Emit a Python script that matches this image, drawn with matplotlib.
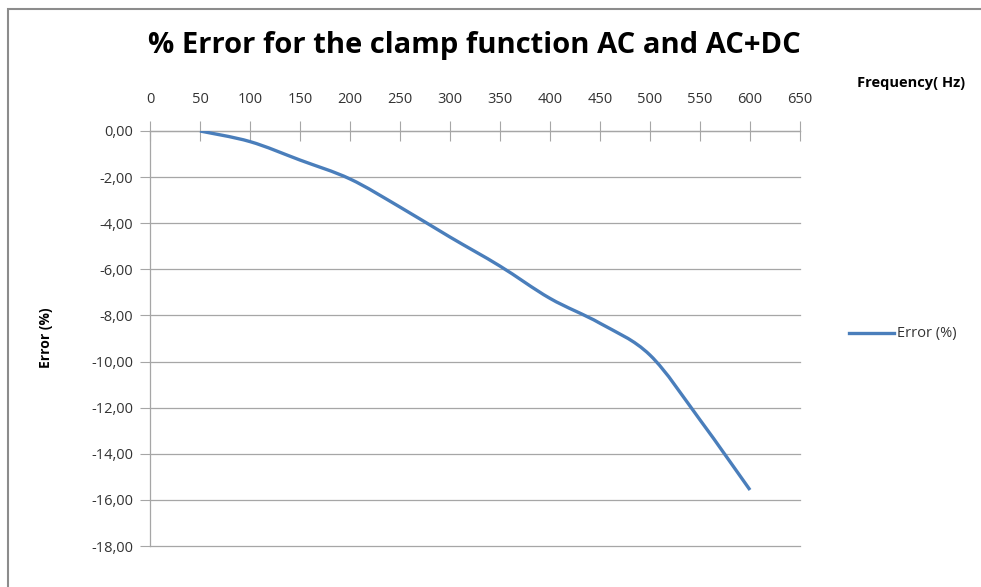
import numpy as np
import matplotlib
matplotlib.use("Agg")
import matplotlib.pyplot as plt
from matplotlib.path import Path
from matplotlib.patches import PathPatch, Rectangle
from matplotlib.lines import Line2D

frequency = [50, 100, 150, 200, 250, 300, 350, 400, 450, 500, 550, 600]
error_pct = [0.0, -0.46, -1.26, -2.08, -3.30, -4.60, -5.86, -7.26, -8.34, -9.72, -12.53, -15.57]
x_ticks = list(range(0, 651, 50))
y_ticks = list(range(0, -19, -2))
title = "% Error for the clamp function AC and AC+DC"
x_label = "Frequency( Hz)"
y_label = "Error (%)"
series_name = "Error (%)"

W, H = 981, 587
fig = plt.figure(figsize=(W / 100, H / 100), dpi=100)
fig.patch.set_facecolor("white")
ax = fig.add_axes([150 / W, 1 - 546 / H, 650 / W, 415 / H])

font = "Open Sans"
tick_color = "#333333"
grid_color = "#a6a6a6"
line_color = "#4a7ebb"

# Smoothed line (Excel-like Catmull-Rom to Bezier), computed from the data
xs = np.array(frequency, dtype=float)
ys = np.array(error_pct, dtype=float)
verts = [(xs[0], ys[0])]
codes = [Path.MOVETO]
n = len(xs)
t = 1 / 6
for i in range(n - 1):
    p0 = (xs[max(i - 1, 0)], ys[max(i - 1, 0)])
    p1 = (xs[i], ys[i])
    p2 = (xs[i + 1], ys[i + 1])
    p3 = (xs[min(i + 2, n - 1)], ys[min(i + 2, n - 1)])
    c1 = (p1[0] + (p2[0] - p0[0]) * t, p1[1] + (p2[1] - p0[1]) * t)
    c2 = (p2[0] - (p3[0] - p1[0]) * t, p2[1] - (p3[1] - p1[1]) * t)
    verts += [c1, c2, p2]
    codes += [Path.CURVE4] * 3
ax.add_patch(PathPatch(Path(verts, codes), facecolor="none", edgecolor=line_color,
                       lw=2.4, capstyle="butt", zorder=3))

ax.set_xlim(0, 650)
ax.set_ylim(-18, 0)
ax.set_xticks(x_ticks)
ax.set_yticks(y_ticks)
ax.set_yticklabels([f"{v:.2f}".replace(".", ",") for v in y_ticks])
ax.xaxis.tick_top()
ax.tick_params(axis="x", direction="inout", length=14, width=0.8, color=grid_color,
               labelsize=10.5, labelcolor=tick_color, pad=10)
ax.tick_params(axis="y", direction="out", length=7, width=0.8, color=grid_color,
               labelsize=10.5, labelcolor=tick_color, pad=5)
for lab in ax.get_xticklabels() + ax.get_yticklabels():
    lab.set_fontfamily(font)

ax.grid(axis="y", color=grid_color, lw=0.9)
for gl in ax.get_ygridlines():
    gl.set_clip_on(False)
ax.set_axisbelow(True)
for s in ["right", "bottom"]:
    ax.spines[s].set_visible(False)
for s in ["left", "top"]:
    ax.spines[s].set_color(grid_color)
    ax.spines[s].set_linewidth(0.9)

# Chart border
fig.add_artist(Rectangle((8 / W, -0.1), 1.2, 1 - 9 / H + 0.1, transform=fig.transFigure,
                         facecolor="none", edgecolor="#8c8c8c", lw=1.5, zorder=0))

fig.text(474 / W, 1 - 45 / H, title, ha="center", va="center", fontsize=21,
         fontweight="bold", family=font, color="black")
fig.text(857 / W, 1 - 83 / H, x_label, ha="left", va="center", fontsize=10.5,
         fontweight="bold", family=font, color="black")
fig.text(46 / W, 1 - 338 / H, y_label, ha="center", va="center", fontsize=10,
         fontweight="bold", family=font, color="black", rotation=90)

# Legend
fig.add_artist(Line2D([849 / W, 894 / W], [1 - 333 / H] * 2, transform=fig.transFigure,
                      color=line_color, lw=2.4))
fig.text(897 / W, 1 - 333 / H, series_name, ha="left", va="center", fontsize=10.5,
         family=font, color=tick_color)

fig.savefig("out.png", dpi=100, facecolor="white")
